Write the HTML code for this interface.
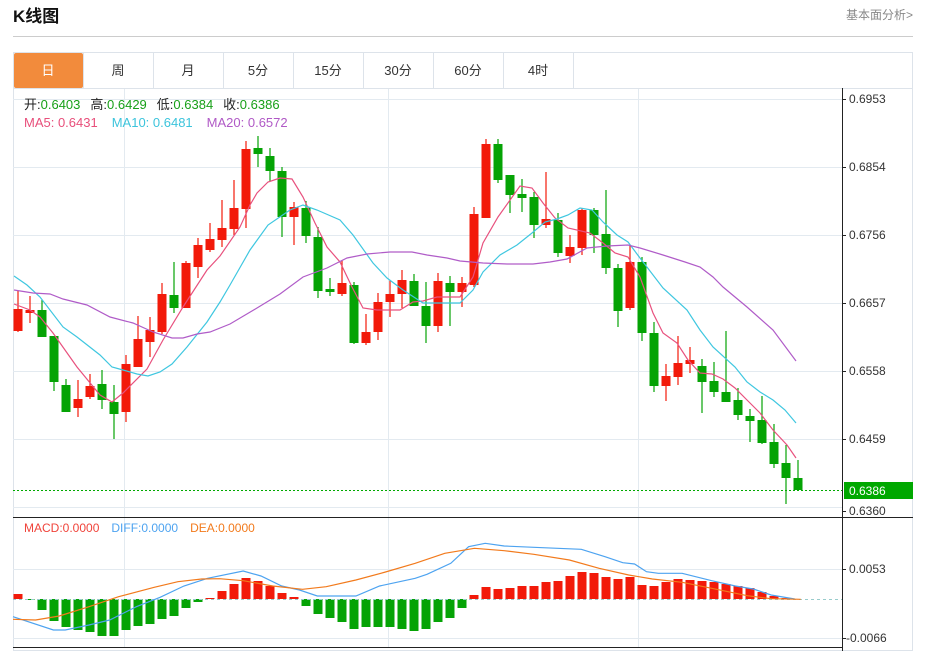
<!DOCTYPE html>
<html><head><meta charset="utf-8"><style>
body{margin:0;width:925px;height:651px;background:#fff;overflow:hidden;font-family:"Liberation Sans","Noto Sans CJK SC",sans-serif;}
</style></head><body>
<svg id="s" width="925" height="651" xmlns="http://www.w3.org/2000/svg" style="position:absolute;left:0;top:0;font-family:'Liberation Sans','Noto Sans CJK SC',sans-serif">
<text x="13" y="22" font-size="17" font-weight="bold" fill="#111">K线图</text>
<text x="913" y="19" font-size="12" fill="#888" text-anchor="end">基本面分析&gt;</text>
<line x1="13" y1="36.5" x2="913" y2="36.5" stroke="#ccc"/>
<rect x="13.5" y="52.5" width="899" height="598" fill="none" stroke="#dde3ea"/>
<rect x="14" y="53" width="69" height="35" fill="#f28b3c" rx="2"/>
<g id="tabs" font-size="13" fill="#333" text-anchor="middle"></g>
<line x1="13" y1="88.5" x2="913" y2="88.5" stroke="#dde3ea"/>
<g id="grid" stroke="#e3eaf0" stroke-width="1"></g>
<line x1="842.5" y1="88" x2="842.5" y2="651" stroke="#222"/>
<line x1="13" y1="517.5" x2="913" y2="517.5" stroke="#222"/>
<line x1="13" y1="647.5" x2="842" y2="647.5" stroke="#222"/>
<g id="ylab" font-size="12" fill="#333"></g>
<g id="c"></g>
<g id="m"></g>
<line x1="13" y1="490.5" x2="842" y2="490.5" stroke="#0a0" stroke-dasharray="2,2"/>
<rect x="844" y="482" width="69" height="17" fill="#00a800"/>
<text x="849" y="495" font-size="12" fill="#fff">0.6386</text>
<g font-size="13">
<text x="24" y="109"><tspan fill="#222">开:</tspan><tspan fill="#18a018">0.6403</tspan><tspan fill="#222" dx="10">高:</tspan><tspan fill="#18a018">0.6429</tspan><tspan fill="#222" dx="10">低:</tspan><tspan fill="#18a018">0.6384</tspan><tspan fill="#222" dx="10">收:</tspan><tspan fill="#18a018">0.6386</tspan></text>
<text x="24" y="127"><tspan fill="#e84f7b">MA5: 0.6431</tspan><tspan fill="#3cc4dc" dx="14">MA10: 0.6481</tspan><tspan fill="#b059c6" dx="14">MA20: 0.6572</tspan></text>
</g>
<text x="24" y="532" font-size="12"><tspan fill="#f0433a">MACD:0.0000</tspan><tspan fill="#4da3f0" dx="12">DIFF:0.0000</tspan><tspan fill="#f27a1c" dx="12">DEA:0.0000</tspan></text>
</svg>
<script>
var NS="http://www.w3.org/2000/svg";
function el(p,t,a,txt){var e=document.createElementNS(NS,t);for(var k in a)e.setAttribute(k,a[k]);if(txt)e.textContent=txt;document.getElementById(p).appendChild(e);return e;}
var tabs=["日","周","月","5分","15分","30分","60分","4时"];
tabs.forEach(function(t,i){var x=13+70*i;el("tabs","text",{x:x+35,y:75,fill:i==0?"#fff":"#333"},t);el("tabs","line",{x1:x+70.5,y1:53,x2:x+70.5,y2:88,stroke:"#dde3ea"});});
[99,167,235,303,371,439,507,569,638].forEach(function(y){el("grid","line",{x1:13,y1:y+.5,x2:842,y2:y+.5});});
[124,388,638].forEach(function(x){el("grid","line",{x1:x+.5,y1:89,x2:x+.5,y2:647});});
[[99,"0.6953"],[167,"0.6854"],[235,"0.6756"],[303,"0.6657"],[371,"0.6558"],[439,"0.6459"],[511,"0.6360"],[569,"0.0053"],[638,"-0.0066"]].forEach(function(a){el("ylab","line",{x1:842,y1:a[0]+.5,x2:846,y2:a[0]+.5,stroke:"#222"});el("ylab","text",{x:a[1][0]=="-"?846:849,y:a[0]+4},a[1]);});
// r/g, bodyTop, bodyBot, wickTop, wickBot
var C=[["r",309,331,291,332],["r",310,313,296,323],["g",310,337,300,337],["g",336,382,336,391],["g",385,412,379,412],["r",399,408,380,417],["r",386,397,374,399],["g",384,400,370,409],["g",402,414,385,439],["r",364,412,355,422],
["r",339,367,316,367],["r",330,342,317,357],["r",294,332,283,334],["g",295,308,262,313],["r",263,308,261,308],["r",245,267,238,278],["r",239,250,223,252],["r",228,240,200,247],["r",208,229,180,235],["r",149,209,141,228],
["g",148,154,136,167],["g",156,171,148,181],["g",171,217,167,237],["r",207,217,202,245],["g",208,236,201,243],["g",237,291,227,298],["g",289,292,278,296],["r",283,294,260,296],["g",285,343,282,344],["r",332,343,314,345],
["r",302,332,293,340],["r",294,302,280,317],["r",280,294,270,308],["g",281,306,274,306],["g",306,326,282,343],["r",281,326,273,332],["g",283,292,276,326],["r",283,292,277,307],["r",214,285,207,287],["r",144,218,139,218],
["g",144,180,139,183],["g",175,195,175,213],["g",194,198,179,212],["g",197,225,192,238],["r",219,225,172,228],["g",220,253,213,257],["r",247,256,235,263],["r",210,248,208,255],["g",210,235,208,253],["g",234,268,190,274],
["g",268,311,264,327],["r",262,308,245,310],["g",262,333,257,341],["g",333,386,322,392],["r",376,386,364,401],["r",363,377,336,385],["r",360,364,347,373],["g",366,382,359,413],["g",381,392,362,397],["g",392,402,331,402],
["g",400,415,388,420],["g",416,421,409,442],["g",420,443,396,444],["g",442,464,424,468],["g",463,478,445,504],["g",478,490,460,490]];
var RED="#f21a0a",GRN="#05a305";
C.forEach(function(c,i){var x=18+12*i,col=c[0]=="r"?RED:GRN;el("c","line",{x1:x,y1:c[3],x2:x,y2:c[4],stroke:col,"stroke-width":1.2});el("c","rect",{x:x-4.5,y:c[1],width:9,height:Math.max(c[2]-c[1],2),fill:col});});
var H=[5,-1,-11,-22,-28,-31,-33,-37,-37,-31,-27,-25,-20,-17,-9,-3,1,8,15,21,18,13,6,2,-7,-15,-19,-23,-30,-28,-28,-28,-30,-32,-30,-23,-19,-9,4,12,10,11,13,13,17,18,23,27,26,22,20,22,14,13,17,20,19,18,17,15,13,11,7,3,1,0];
H.forEach(function(h,i){var x=18+12*i;if(h==0)return;el("c","rect",{x:x-4.5,y:h>0?599-h:599,width:9,height:Math.abs(h),fill:h>0?RED:GRN});});
el("c","line",{x1:13,y1:599.5,x2:842,y2:599.5,stroke:"#9cc",  "stroke-dasharray":"3,3"});
function pl(pts,col,w){el("m","polyline",{points:pts.map(function(p){return p.join(",")}).join(" "),fill:"none",stroke:col,"stroke-width":w||1.2});}
pl([[14,304],[30,310],[40,317],[53,333],[77,367],[100,395],[112,402],[123,393],[147,369],[163,340],[183,307],[207,270],[220,256],[240,227],[250,205],[257,193],[268,182],[280,178],[292,179],[303,197],[315,223],[327,247],[340,262],[352,287],[363,308],[377,310],[400,310],[413,302],[423,301],[437,297],[460,297],[473,277],[483,243],[498,217],[520,186],[532,188],[543,203],[555,218],[568,228],[590,233],[603,243],[615,253],[628,257],[640,277],[653,313],[663,333],[677,343],[688,360],[700,373],[712,374],[723,379],[735,388],[747,400],[760,413],[773,430],[787,445],[796,458]],"#e8517e");
pl([[14,276],[27,285],[40,297],[63,327],[77,337],[100,355],[112,367],[123,370],[137,374],[148,376],[160,372],[172,364],[187,347],[207,322],[220,302],[230,285],[250,250],[268,225],[290,210],[303,205],[317,210],[340,220],[353,235],[373,263],[387,278],[403,290],[423,303],[460,303],[473,290],[483,272],[500,255],[517,245],[532,233],[545,222],[557,219],[568,215],[580,208],[592,210],[603,222],[617,235],[628,242],[640,258],[663,288],[687,310],[700,330],[713,347],[735,367],[747,382],[760,392],[773,400],[785,410],[796,423]],"#3fc7e0");
pl([[14,290],[33,293],[50,294],[63,299],[87,305],[110,317],[133,323],[153,332],[172,338],[183,338],[197,334],[210,332],[230,324],[257,308],[280,294],[303,277],[327,268],[347,258],[367,254],[390,252],[412,252],[427,255],[447,258],[460,261],[483,263],[507,264],[533,264],[550,262],[567,259],[587,248],[607,246],[628,245],[640,248],[663,255],[685,262],[700,267],[713,277],[723,287],[747,307],[773,330],[796,361]],"#b05cc8");
var f=function(a){return a.map(function(p){return [+(p[0]/1.686).toFixed(1),+(510+p[1]/3).toFixed(1)]});};
pl(f([[22,320],[90,360],[110,360],[150,345],[185,330],[230,290],[270,262],[310,228],[350,205],[410,183],[440,198],[475,228],[505,240],[535,258],[600,258],[640,228],[700,205],[720,193],[760,160],[790,110],[818,100],[850,108],[900,112],[980,118],[1020,140],[1050,158],[1070,162],[1090,185],[1110,190],[1150,190],[1200,212],[1240,228],[1270,237],[1300,255],[1340,267]]),"#4da3f0");
pl(f([[22,328],[60,330],[100,318],[150,290],[200,260],[260,232],[300,215],[340,207],[370,206],[410,212],[460,228],[510,238],[550,230],[600,210],[650,186],[700,160],[750,130],[800,115],[850,122],[900,133],[960,150],[1010,175],[1060,195],[1100,207],[1150,217],[1200,235],[1260,257],[1300,266],[1350,268]]),"#f27a1c");
</script>
</body></html>
